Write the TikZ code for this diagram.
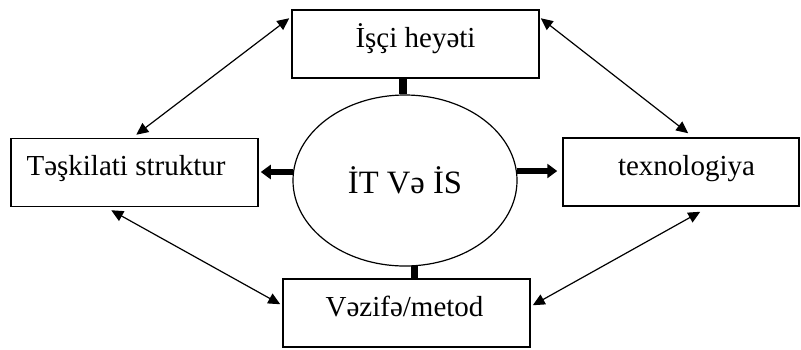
\documentclass[tikz,border=0pt]{standalone}
\usepackage{fontspec}
\setmainfont{Liberation Serif}
\usetikzlibrary{calc,arrows.meta,shapes.geometric}
\begin{document}
\begin{tikzpicture}[x=0.5pt,y=-0.5pt,
  box/.style={draw,line width=0.75pt,minimum width=123.5pt,minimum height=34pt,inner sep=0pt,
    font=\fontsize{14.5}{16}\selectfont,text height=0.65em,text depth=0.35em},
  oval/.style={draw,ellipse,line width=0.6pt,minimum width=112pt,minimum height=85.5pt,inner sep=0pt,
    font=\fontsize{16.3}{18}\selectfont},
  dbl/.style={line width=0.6pt,{Triangle[length=6pt,width=5.5pt]}-{Triangle[length=6pt,width=5.5pt]}},
  bar/.style={line width=4pt},
  thick arrow/.style={line width=3pt,-{Triangle[length=5pt,width=7pt]}}
]
\useasboundingbox (0,0) rectangle (801,349);
\node[box] (T) at (415.5,44) {İşçi heyəti};
\node[box] (L) at (134.5,172.5) {\hspace*{-8.5pt}Təşkilati struktur};
\node[box,minimum width=118pt] (R) at (681,172) {\hspace*{5.5pt}texnologiya};
\node[box] (B) at (406.5,313) {\hspace*{-2pt}Vəzifə/metod};
\node[oval] (E) at (405,180.5) {İT Və İS};
% thin double arrows
\draw[dbl] ($(T.north west)+(-2,9)$) -- ($(L.north west)+(126,-3)$);
\draw[dbl] ($(T.north east)+(1,9)$) -- ($(R.north west)+(126,-4)$);
\draw[dbl] ($(L.south west)+(101,3)$) -- ($(B.north west)+(-2,26)$);
\draw[dbl] ($(R.south west)+(138,5)$) -- ($(B.north east)+(2,27)$);
% thick bars
\coordinate (et) at ($(E.north)+(-2.5,0)$);
\draw[bar] (et) -- (et |- T.south);
\coordinate (eb) at ($(E.south)+(9,-0.5)$);
\draw[bar,line width=3.5pt] (eb) -- (eb |- B.north);
% thick arrows
\coordinate (el) at ($(E.west)+(0.5,-8.5)$);
\draw[thick arrow,shorten >=1pt] (el) -- (el -| L.east);
\coordinate (er) at ($(E.east)+(-1,-9.5)$);
\draw[thick arrow,shorten >=2.5pt] (er) -- (er -| R.west);
\end{tikzpicture}
\end{document}
